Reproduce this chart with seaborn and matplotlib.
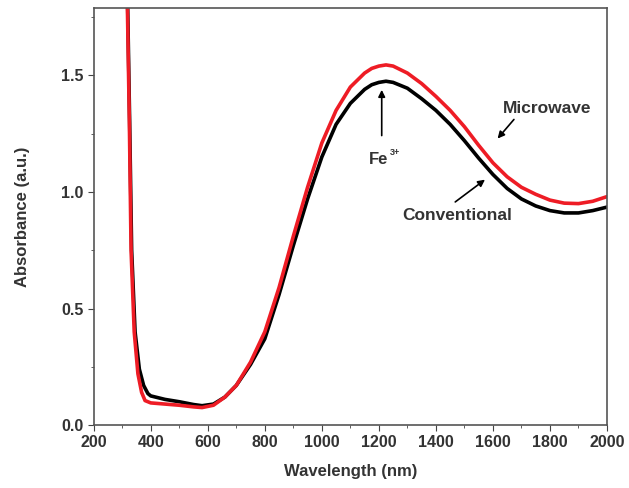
import pandas as pd
import seaborn as sns
import matplotlib.pyplot as plt
from matplotlib.ticker import MultipleLocator

# Conventional (black)
conv_wl = [319, 326, 333, 345, 360, 375, 390, 400, 450, 500, 550, 580, 620, 660, 700, 750,
           800, 850, 900, 950, 1000, 1050, 1100, 1150, 1175, 1200, 1225, 1250, 1300, 1350, 1400, 1450,
           1500, 1550, 1600, 1650, 1700, 1750, 1800, 1850, 1900, 1950, 2000]
conv_abs = [1.80, 1.30, 0.75, 0.40, 0.24, 0.17, 0.135, 0.125, 0.11, 0.10, 0.088, 0.083, 0.09, 0.12, 0.17, 0.26,
            0.37, 0.56, 0.77, 0.97, 1.15, 1.29, 1.38, 1.44, 1.46, 1.47, 1.475, 1.47, 1.445, 1.40, 1.35, 1.29,
            1.22, 1.145, 1.075, 1.015, 0.97, 0.94, 0.92, 0.91, 0.91, 0.92, 0.935]

# Microwave (red)
micro_wl = [318, 325, 331, 342, 355, 368, 380, 400, 450, 500, 550, 580, 620, 660, 700, 750,
            800, 850, 900, 950, 1000, 1050, 1100, 1150, 1175, 1200, 1225, 1250, 1300, 1350, 1400, 1450,
            1500, 1550, 1600, 1650, 1700, 1750, 1800, 1850, 1900, 1950, 2000]
micro_abs = [1.80, 1.30, 0.75, 0.40, 0.22, 0.14, 0.105, 0.095, 0.09, 0.085, 0.078, 0.075, 0.085, 0.12, 0.17, 0.27,
             0.40, 0.59, 0.81, 1.02, 1.21, 1.35, 1.45, 1.51, 1.53, 1.54, 1.545, 1.54, 1.51, 1.465, 1.41, 1.35,
             1.28, 1.20, 1.125, 1.065, 1.02, 0.99, 0.965, 0.952, 0.95, 0.96, 0.98]

conv = pd.DataFrame({'wl': conv_wl, 'abs': conv_abs})
micro = pd.DataFrame({'wl': micro_wl, 'abs': micro_abs})

sns.set_style('ticks')
plt.rcParams['font.family'] = ['Liberation Sans', 'DejaVu Sans']
plt.rcParams['font.weight'] = 'bold'

fig = plt.figure(figsize=(6.29, 4.88), dpi=100)
ax = fig.add_axes([0.149, 0.129, 0.816, 0.855])

sns.lineplot(x='wl', y='abs', data=conv, ax=ax, color='black', linewidth=2.6, sort=False,
             solid_joinstyle='round')
sns.lineplot(x='wl', y='abs', data=micro, ax=ax, color='#ee1c25', linewidth=2.6, sort=False,
             solid_joinstyle='round')

ax.set_xlim(200, 2000)
ax.set_ylim(0, 1.79)
ax.xaxis.set_major_locator(MultipleLocator(200))
ax.xaxis.set_minor_locator(MultipleLocator(100))
ax.yaxis.set_major_locator(MultipleLocator(0.5))
ax.yaxis.set_minor_locator(MultipleLocator(0.25))
ax.tick_params(which='both', direction='out', colors='#444444', labelcolor='#333333', labelsize=11.5)
ax.tick_params(which='major', length=4)
ax.tick_params(which='minor', length=2.5)
for lab in ax.get_xticklabels() + ax.get_yticklabels():
    lab.set_fontweight('bold')
for s in ax.spines.values():
    s.set_color('#555555')
    s.set_linewidth(1.2)

ax.set_xlabel('Wavelength (nm)', fontsize=12, fontweight='bold', color='#333333', labelpad=10)
ax.set_ylabel('Absorbance (a.u.)', fontsize=12, fontweight='bold', color='#333333', labelpad=22)

arrow = dict(arrowstyle='-|>', color='black', lw=1.2, mutation_scale=10)
ax.annotate('', xy=(1210, 1.45), xytext=(1210, 1.23), arrowprops=arrow)
ax.text(1198, 1.14, 'Fe', ha='center', va='center', fontsize=12, fontweight='bold', color='#333333')
ax.annotate('3+', xy=(1198, 1.14), xytext=(8, 5), textcoords='offset points',
            ha='left', va='center', fontsize=6.5, fontweight='bold', color='#333333')
ax.annotate('', xy=(1610, 1.22), xytext=(1680, 1.32), arrowprops=arrow)
ax.text(1790, 1.36, 'Microwave', ha='center', va='center', fontsize=12.5, fontweight='bold', color='#333333')
ax.annotate('', xy=(1580, 1.06), xytext=(1460, 0.95), arrowprops=arrow)
ax.text(1475, 0.90, 'Conventional', ha='center', va='center', fontsize=12.5, fontweight='bold', color='#333333')

fig.savefig('out.png', dpi=100)
